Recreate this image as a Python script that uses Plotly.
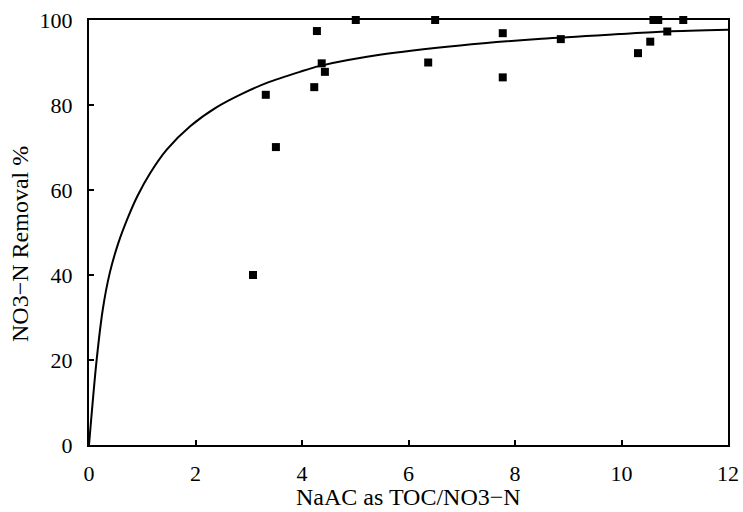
import plotly.graph_objects as go

# Measured data points
pts_x = [3.08, 3.32, 3.51, 4.23, 4.28, 4.37, 4.43, 5.01, 6.37, 6.50, 7.77, 7.77,
         8.86, 10.31, 10.54, 10.60, 10.69, 10.86, 11.16]
pts_y = [40.0, 82.4, 70.1, 84.2, 97.4, 89.8, 87.8, 100.0, 90.0, 100.0, 96.9, 86.5,
         95.5, 92.2, 94.9, 100.0, 100.0, 97.3, 100.0]

# Fitted curve
curve_x = [0, 0.14, 0.26, 0.39, 0.55, 0.73, 0.91, 1.15, 1.46, 1.90, 2.40, 2.90,
           3.34, 3.96, 4.34, 5.46, 6.97, 8.5, 9.97, 10.85, 12]
curve_y = [0, 19.6, 32.0, 40.5, 47.5, 53.5, 58.6, 64.0, 69.5, 75.0, 79.5, 82.8,
           85.2, 87.8, 89.2, 91.8, 94.0, 95.6, 96.7, 97.3, 97.7]

x_ticks = [0, 2, 4, 6, 8, 10, 12]
y_ticks = [0, 20, 40, 60, 80, 100]

x_title = "NaAC as TOC/NO3−N"
y_title = "NO3−N Removal %"

FONT = "Liberation Serif"

fig = go.Figure()
fig.add_trace(go.Scatter(x=curve_x, y=curve_y, mode="lines",
                         line=dict(color="black", width=2, shape="spline", smoothing=0.8),
                         showlegend=False, hoverinfo="skip"))
fig.add_trace(go.Scatter(x=pts_x, y=pts_y, mode="markers",
                         marker=dict(symbol="square", size=8, color="black"),
                         showlegend=False, cliponaxis=False))

fig.update_layout(
    width=743, height=512,
    margin=dict(l=89, r=15, t=20, b=67, autoexpand=False),
    paper_bgcolor="white", plot_bgcolor="white",
    font=dict(family=FONT, color="black", size=22),
    annotations=[
        dict(text=x_title, xref="paper", yref="paper", x=0.5, y=-0.122,
             xanchor="center", yanchor="middle", showarrow=False,
             font=dict(family=FONT, size=24, color="black")),
        dict(text=y_title, xref="paper", yref="paper", x=-0.108, y=0.473,
             xanchor="center", yanchor="middle", showarrow=False, textangle=-90,
             font=dict(family=FONT, size=24, color="black")),
    ],
)
fig.update_xaxes(range=[0, 12], tickvals=x_ticks, ticks="inside", ticklen=5,
                 tickwidth=1.5, tickcolor="black", showline=True, linecolor="black",
                 linewidth=2, mirror=True, showgrid=False, zeroline=False,
                 automargin=False, ticklabelstandoff=8,
                 tickfont=dict(family=FONT, size=22))
fig.update_yaxes(range=[0, 100], tickvals=y_ticks, ticks="inside", ticklen=5,
                 tickwidth=1.5, tickcolor="black", showline=True, linecolor="black",
                 linewidth=2, mirror=True, showgrid=False, zeroline=False,
                 automargin=False, ticklabelstandoff=10,
                 tickfont=dict(family=FONT, size=22))

# remove the page's default body margin so the figure fills the window exactly
fig.write_html("out.html",
               config={"displayModeBar": False},
               post_script="document.body.style.margin='0';document.body.style.overflow='hidden';")
